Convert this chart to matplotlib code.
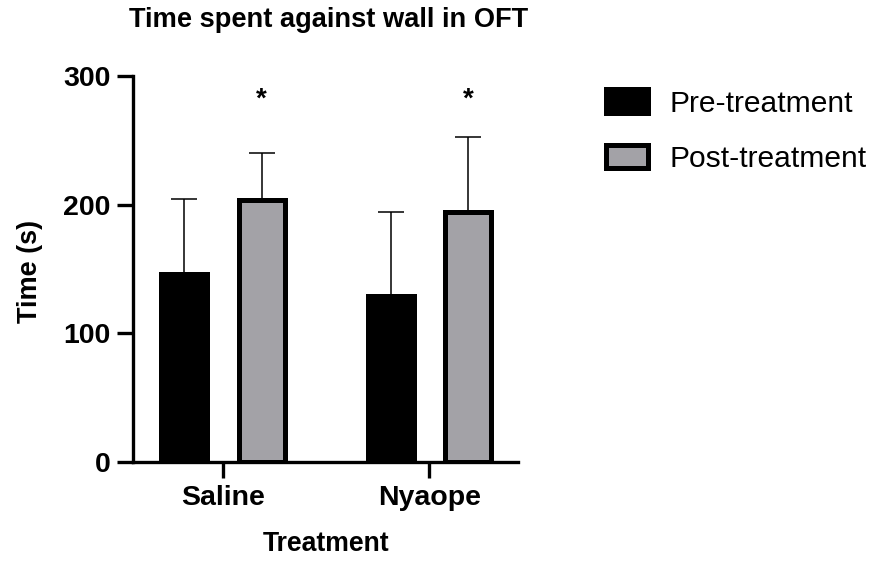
import numpy as np
import matplotlib
matplotlib.use("Agg")
import matplotlib.pyplot as plt

plt.rcParams['font.family'] = ['Liberation Sans', 'DejaVu Sans']

groups = ['Saline', 'Nyaope']
series = ['Pre-treatment', 'Post-treatment']
pre_mean = [146, 129]
pre_err = [58, 65]
post_mean = [203.5, 194]
post_err = [36.5, 58.5]
yticks = [0, 100, 200, 300]
star_level = 276

fig = plt.figure(figsize=(8.83, 5.61), dpi=100)
ax = fig.add_axes([133 / 883, 1 - 462.3 / 561, 385 / 883, 386.6 / 561])

x = np.arange(len(groups))
off = 0.187
w = 0.223
lw = 3.6

b1 = ax.bar(x - off, pre_mean, w, color='black', edgecolor='black', linewidth=lw,
            label=series[0], zorder=3)
b2 = ax.bar(x + off, post_mean, w, color='#a3a2a7', edgecolor='black', linewidth=lw,
            label=series[1], zorder=3)

ax.errorbar(x - off, pre_mean, yerr=[np.zeros(2), pre_err], fmt='none', ecolor='black',
            elinewidth=1.1, capsize=9.4, capthick=1.1, zorder=2)
ax.errorbar(x + off, post_mean, yerr=[np.zeros(2), post_err], fmt='none', ecolor='black',
            elinewidth=1.1, capsize=9.4, capthick=1.1, zorder=2)

for xi in x + off:
    ax.text(xi, star_level, '*', ha='center', va='baseline', fontsize=20, fontweight='bold')

ax.set_ylim(0, 300)
ax.set_xlim(-0.436, 1.43)
ax.set_yticks(yticks)
ax.set_xticks(x)
ax.set_xticklabels(groups)

for s in ['top', 'right']:
    ax.spines[s].set_visible(False)
for s in ['left', 'bottom']:
    ax.spines[s].set_linewidth(2.4)
ax.spines['left'].set_capstyle('projecting')
ax.spines['bottom'].set_capstyle('projecting')

ax.tick_params(axis='both', length=11.5, width=2.4, labelsize=20.5, pad=4.5)
for lab in ax.get_xticklabels() + ax.get_yticklabels():
    lab.set_fontweight('bold')

fig.text(329 / 883, 1 - 27 / 561, 'Time spent against wall in OFT', ha='center',
         va='baseline', fontsize=19.6, fontweight='bold')
fig.text(326 / 883, 1 - 551 / 561, 'Treatment', ha='center', va='baseline',
         fontsize=19.2, fontweight='bold')
fig.text(30 / 883, 1 - 271 / 561, 'Time (s)', ha='center', va='center', rotation=90,
         fontsize=19.5, fontweight='bold')

fig.legend(handles=[b1, b2], loc='center left', bbox_to_anchor=(605.5 / 883, 1 - 131 / 561),
           frameon=False, fontsize=21.6, borderpad=0, borderaxespad=0,
           handlelength=1.4, handleheight=0.84, handletextpad=0.75, labelspacing=0.9)

fig.savefig('out.png', dpi=100)
